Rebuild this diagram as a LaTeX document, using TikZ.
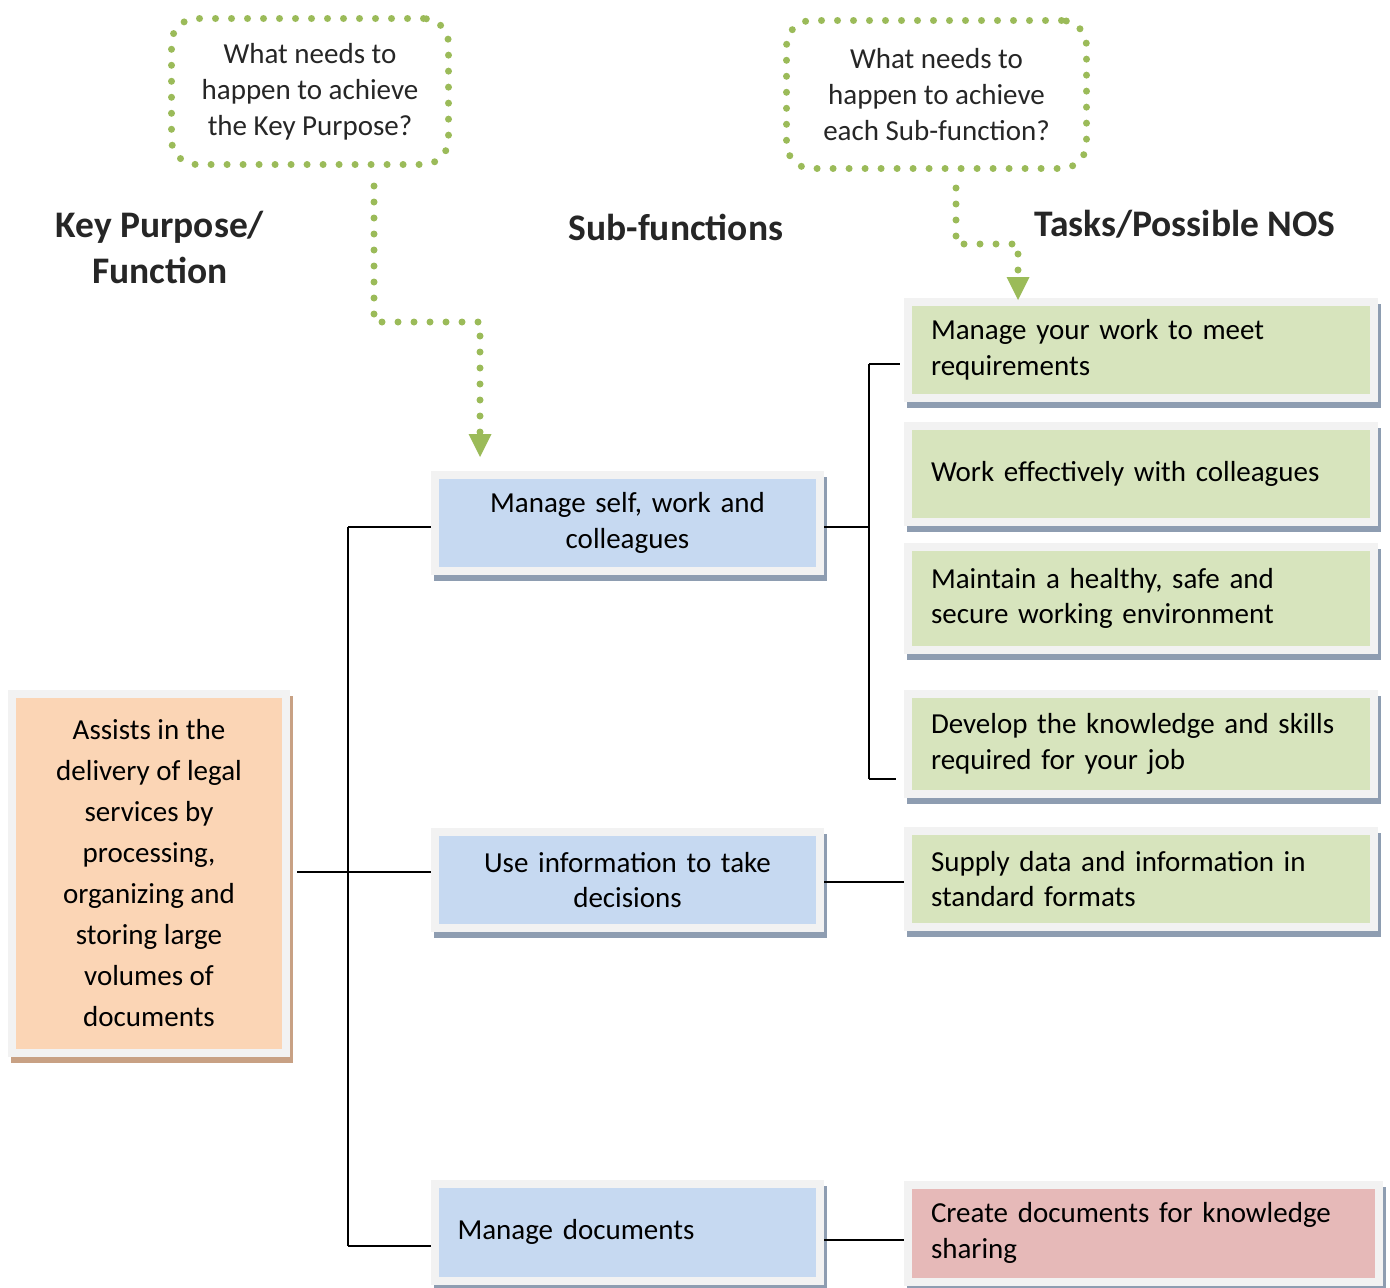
\documentclass[tikz,border=0pt]{standalone}
\usepackage{fontspec}
\setmainfont{Carlito}
\usepackage{xcolor}
\usepackage{tikz}
\usetikzlibrary{arrows.meta}

\definecolor{subblue}{HTML}{C6D9F1}
\definecolor{taskgreen}{HTML}{D7E4BD}
\definecolor{taskred}{HTML}{E6B9B8}
\definecolor{keyorange}{HTML}{FBD5B5}
\definecolor{edgegray}{HTML}{F2F2F2}
\definecolor{shadowblue}{HTML}{8E9DB1}
\definecolor{shadowtan}{HTML}{C8A184}
\definecolor{dotgreen}{HTML}{9BBB59}

\newcommand\boxfont{\fontsize{29}{35.5}\selectfont}
\newcommand\askfont{\fontsize{29}{36}\selectfont}
\newcommand\headfont{\fontsize{37.5}{46}\selectfont\bfseries}

\tikzset{
  box/.style={draw=edgegray, line width=8pt,
    preaction={draw=#1, fill=#1, transform canvas={xshift=3pt,yshift=-6pt}}},
  subfn/.style={box=shadowblue, fill=subblue, minimum width=385pt,
    minimum height=96pt, text width=340pt, align=center, font=\boxfont},
  task/.style={box=shadowblue, fill=taskgreen, minimum width=466pt,
    minimum height=96pt, text width=420pt, align=left, font=\boxfont},
  ask/.style={draw=dotgreen, line width=7pt, line cap=round,
    dash pattern=on 0pt off 16pt, rounded corners=25pt, align=center,
    text=black!85, font=\askfont},
  dotflow/.style={draw=dotgreen, line width=7pt, line cap=round,
    dash pattern=on 0pt off 16pt,
    -{Triangle[length=23pt,width=23pt,line width=0pt]}},
  heading/.style={font=\headfont, align=center, text=black!85},
  link/.style={draw=black, line width=1.5pt},
}

\begin{document}
\begin{tikzpicture}[x=1pt,y=-1pt]
    \useasboundingbox (0,0) rectangle (1390,1288);
    % headings
    \node[heading] (purpose) at (160,247) {Key Purpose/\\Function};
    \node[heading] (subhead) at (676,227) {Sub-functions};
    \node[heading] (taskhead) at (1185,224) {Tasks/Possible NOS};
    % questions
    \node[ask, minimum width=277pt, minimum height=146pt] (q1) at (310,91.5)
      {What needs to\\happen to achieve\\the Key Purpose?};
    \node[ask, minimum width=300pt, minimum height=148pt] (q2) at (936.5,94.5)
      {What needs to\\happen to achieve\\each Sub-function?};
    % key purpose
    \node[box=shadowtan, fill=keyorange, minimum width=274pt, minimum height=359pt,
      align=center, font=\fontsize{29}{41}\selectfont] (key) at (149,873.5)
      {Assists in the\\delivery of legal\\services by\\processing,\\organizing and\\storing large\\volumes of\\documents};
    % sub-functions
    \node[subfn] (self) at (627.5,523) {Manage self, work and\\colleagues};
    \node[subfn] (info) at (627.5,880) {Use information to take\\decisions};
    \node[subfn, align=left, minimum height=97pt] (docs) at (627.5,1232) {Manage documents};
    % tasks
    \node[task] (meet) at (1141,350) {Manage your work to meet\\requirements};
    \node[task] (colleagues) at (1141,474) {Work effectively with colleagues};
    \node[task, minimum height=103pt] (safe) at (1141,598.5)
      {Maintain a healthy, safe and\\secure working environment};
    \node[task, minimum height=100pt] (skills) at (1141,744)
      {Develop the knowledge and skills\\required for your job};
    \node[task] (supply) at (1141,879) {Supply data and information in\\standard formats};
    \node[task, fill=taskred, minimum width=471pt, minimum height=97pt, text width=425pt]
      (create) at (1143.5,1233) {Create documents for knowledge\\sharing};
    % left tree
    \coordinate (spine top) at (348,527);
    \coordinate (spine bot) at (348,1246);
    \draw[link] (spine top) -- (spine bot);
    \draw[link] (spine top) -- (spine top -| self.west);
    \draw[link] (spine bot) -- (spine bot -| docs.west);
    \draw[link] ([xshift=7pt,yshift=1.5pt]key.east) -- ([yshift=1.5pt]key.east -| info.west);
    % right tree
    \coordinate (fork top) at (869,364);
    \coordinate (fork bot) at (869,779);
    \draw[link] ([yshift=-4pt]self.east) -- ([yshift=-4pt]self.east -| fork top);
    \draw[link] (fork top) -- (fork bot);
    \draw[link, shorten >=4pt] (fork top) -- (fork top -| meet.west);
    \draw[link, shorten >=8pt] (fork bot) -- (fork bot -| skills.west);
    \draw[link] ([yshift=-2pt]info.east) -- ([yshift=-2pt]info.east -| supply.west);
    \draw[link] ([yshift=-8pt]docs.east) -- ([yshift=-8pt]docs.east -| create.west);
    % question arrows
    \coordinate (bend1) at (480,322);
    \coordinate (bend2) at (1018,244);
    \draw[dotflow, shorten >=14pt] ([xshift=64pt,yshift=-18pt]q1.south) |- (bend1)
      -- (bend1 |- self.north);
    \draw[dotflow, shorten >=-2pt] ([xshift=19.5pt,yshift=-16pt]q2.south) |- (bend2)
      -- (bend2 |- meet.north);
\end{tikzpicture}
\end{document}
